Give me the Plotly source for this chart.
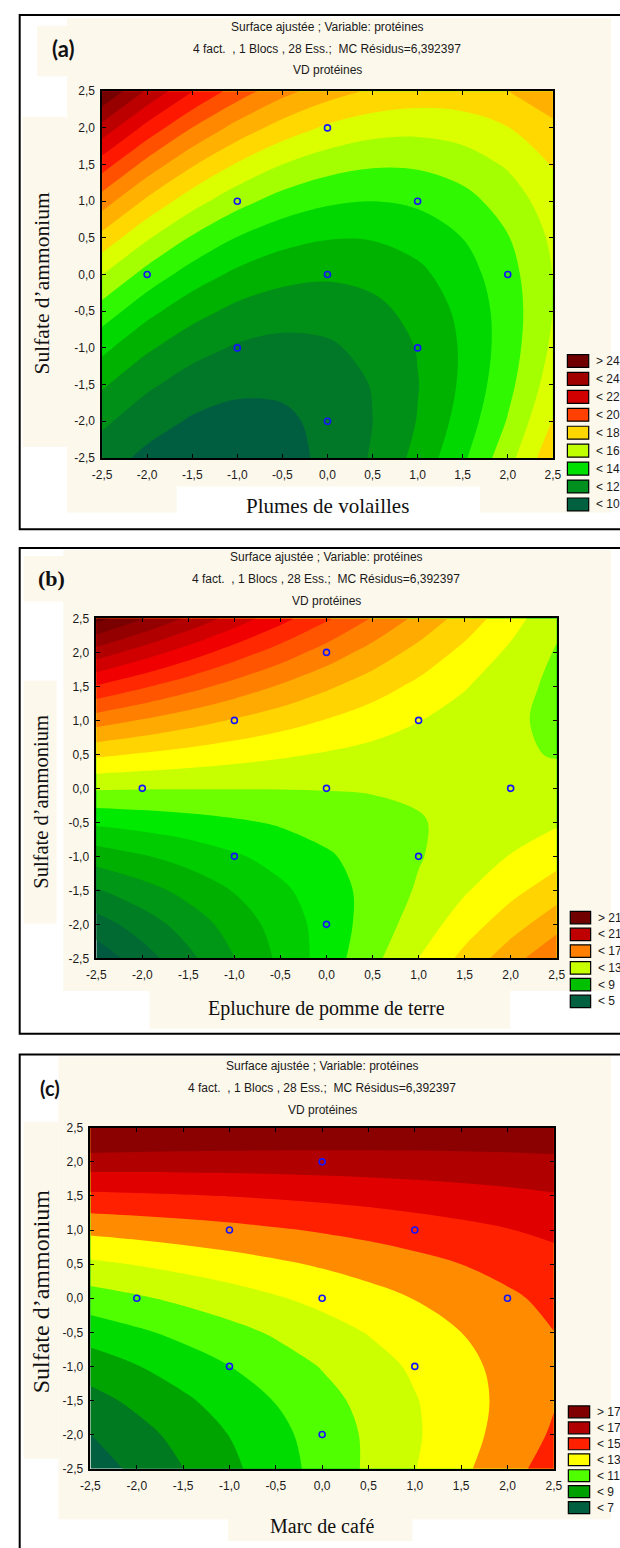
import plotly.graph_objects as go

W, H = 620, 1548

# ---------------- data ----------------
grid_x = [-2.5, -2.0, -1.5, -1.0, -0.5, 0.0, 0.5, 1.0, 1.5, 2.0, 2.5]
grid_y = [-2.5, -2.0, -1.5, -1.0, -0.5, 0.0, 0.5, 1.0, 1.5, 2.0, 2.5]

tick_vals = [-2.5, -2.0, -1.5, -1.0, -0.5, 0.0, 0.5, 1.0, 1.5, 2.0, 2.5]
tick_text = ["-2,5", "-2,0", "-1,5", "-1,0", "-0,5", "0,0", "0,5", "1,0", "1,5", "2,0", "2,5"]

design_x = [0, -1, 1, -2, 0, 2, -1, 1, 0]
design_y = [2, 1, 1, 0, 0, 0, -1, -1, -2]

# (a) Plumes de volailles x Sulfate d'ammonium  (rows: y = -2.5 ... 2.5)
z_a = [
    [10.43, 9.77, 9.41, 9.37, 9.64, 10.22, 11.10, 12.30, 13.81, 15.63, 17.75],
    [11.20, 10.39, 9.89, 9.70, 9.82, 10.25, 10.99, 12.04, 13.40, 15.07, 17.06],
    [12.14, 11.18, 10.54, 10.20, 10.18, 10.46, 11.05, 11.96, 13.17, 14.70, 16.53],
    [13.26, 12.15, 11.36, 10.88, 10.71, 10.85, 11.29, 12.05, 13.12, 14.50, 16.19],
    [14.55, 13.30, 12.36, 11.73, 11.41, 11.41, 11.71, 12.32, 13.24, 14.47, 16.01],
    [16.02, 14.62, 13.54, 12.76, 12.30, 12.14, 12.30, 12.76, 13.54, 14.62, 16.02],
    [17.66, 16.12, 14.88, 13.96, 13.35, 13.05, 13.06, 13.38, 14.01, 14.94, 16.19],
    [19.48, 17.79, 16.41, 15.34, 14.58, 14.14, 14.00, 14.17, 14.65, 15.44, 16.55],
    [21.47, 19.63, 18.11, 16.89, 15.99, 15.40, 15.11, 15.14, 15.47, 16.12, 17.07],
    [23.64, 21.65, 19.98, 18.62, 17.57, 16.83, 16.40, 16.28, 16.47, 16.97, 17.78],
    [25.98, 23.85, 22.03, 20.53, 19.33, 18.44, 17.86, 17.60, 17.64, 17.99, 18.65],
]
band_colors_a = ["#005e40", "#007828", "#009018", "#00b200", "#00d800", "#30f800",
                 "#a4ff00", "#dcff00", "#ffd800", "#ffb000", "#ff8800", "#ff5000",
                 "#ff1800", "#e00000", "#bc0000", "#980000", "#740000"]
legend_a_labels = ["> 24", "< 24", "< 22", "< 20", "< 18", "< 16", "< 14", "< 12", "< 10"]
legend_a_colors = ["#700000", "#a00000", "#d00000", "#ff4000", "#ffd700", "#c0ff00",
                   "#00e000", "#009020", "#006040"]

# (b) Epluchure de pomme de terre x Sulfate d'ammonium
z_b = [
    [4.35, 5.54, 6.75, 7.98, 9.21, 10.46, 11.72, 13.00, 14.29, 15.59, 16.90],
    [5.54, 6.49, 7.45, 8.43, 9.42, 10.42, 11.44, 12.46, 13.51, 14.56, 15.63],
    [6.91, 7.61, 8.33, 9.06, 9.80, 10.56, 11.33, 12.11, 12.90, 13.71, 14.53],
    [8.46, 8.92, 9.39, 9.87, 10.37, 10.88, 11.40, 11.93, 12.48, 13.04, 13.62],
    [10.19, 10.40, 10.62, 10.86, 11.11, 11.37, 11.65, 11.94, 12.24, 12.55, 12.88],
    [12.10, 12.06, 12.04, 12.03, 12.03, 12.05, 12.08, 12.12, 12.18, 12.25, 12.33],
    [14.19, 13.91, 13.64, 13.38, 13.14, 12.91, 12.69, 12.49, 12.30, 12.12, 11.95],
    [16.46, 15.93, 15.41, 14.91, 14.42, 13.95, 13.48, 13.03, 12.59, 12.17, 11.76],
    [18.91, 18.13, 17.37, 16.62, 15.89, 15.16, 14.45, 13.76, 13.07, 12.40, 11.74],
    [21.54, 20.52, 19.51, 18.51, 17.53, 16.56, 15.60, 14.66, 13.73, 12.81, 11.91],
    [24.35, 23.08, 21.82, 20.58, 19.35, 18.14, 16.93, 15.74, 14.57, 13.40, 12.25],
]
band_colors_b = ["#005a40", "#006a32", "#007e24", "#009616", "#00b000", "#00cc00",
                 "#00ea00", "#6cff00", "#c8ff00", "#ffff00", "#ffd400", "#ffaa00",
                 "#ff8000", "#ff5400", "#ff2800", "#f00000", "#d00000", "#b00000",
                 "#940000", "#7a0000", "#600000"]
legend_b_labels = ["> 21", "< 21", "< 17", "< 13", "< 9", "< 5"]
legend_b_colors = ["#700000", "#c00000", "#ff8000", "#c8ff00", "#00c000", "#006040"]

# (c) Marc de café x Sulfate d'ammonium
z_c = [
    [6.47, 7.23, 7.99, 8.77, 9.55, 10.35, 11.15, 11.97, 12.79, 13.63, 14.47],
    [6.99, 7.65, 8.33, 9.02, 9.72, 10.43, 11.15, 11.88, 12.62, 13.37, 14.13],
    [7.65, 8.23, 8.83, 9.43, 10.04, 10.67, 11.30, 11.94, 12.59, 13.26, 13.93],
    [8.47, 8.96, 9.47, 9.99, 10.51, 11.05, 11.60, 12.15, 12.72, 13.30, 13.89],
    [9.43, 9.84, 10.26, 10.69, 11.13, 11.59, 12.05, 12.52, 13.00, 13.49, 13.99],
    [10.55, 10.87, 11.21, 11.55, 11.91, 12.27, 12.65, 13.03, 13.43, 13.83, 14.25],
    [11.81, 12.05, 12.30, 12.56, 12.83, 13.11, 13.39, 13.69, 14.00, 14.32, 14.65],
    [13.23, 13.38, 13.54, 13.71, 13.90, 14.09, 14.29, 14.51, 14.73, 14.96, 15.21],
    [14.79, 14.86, 14.93, 15.02, 15.12, 15.23, 15.34, 15.47, 15.61, 15.75, 15.91],
    [16.51, 16.49, 16.48, 16.48, 16.49, 16.51, 16.54, 16.58, 16.63, 16.69, 16.77],
    [18.37, 18.27, 18.17, 18.09, 18.01, 17.95, 17.89, 17.85, 17.81, 17.79, 17.77],
]
band_colors_c = ["#006040", "#007a20", "#00a400", "#00dc00", "#50ff00", "#ccff00",
                 "#ffff00", "#ff8c00", "#ff2000", "#e00000", "#b00000", "#8b0000"]
legend_c_labels = ["> 17", "< 17", "< 15", "< 13", "< 11", "< 9", "< 7"]
legend_c_colors = ["#800000", "#b00000", "#ff2000", "#ffff00", "#50ff00", "#00a000", "#006040"]

title_lines = ["Surface ajustée ; Variable: protéines",
               "4 fact.  , 1 Blocs , 28 Ess.;  MC Résidus=6,392397",
               "VD protéines"]
y_title = "Sulfate d’ammonium"

# ---------------- layout helpers ----------------
def fx(p):
    return p / W


def fy(p):
    return 1 - p / H


CREAM = "#fdf8ec"
SANS = "Liberation Sans, Arial, sans-serif"
SERIF = "Liberation Serif, Times New Roman, serif"
TXT = "#1a1a1a"

panels = [
    dict(z=z_a, start=10, end=25, colors=band_colors_a,
         leg_lab=legend_a_labels, leg_col=legend_a_colors,
         plot=(95, 560, 85, 455), frame=(10, 8, 700, 527),
         cream=(59, 11, 620, 510),
         boxes=[((28, 19, 60, 70), CREAM), ((13, 111, 59, 444), CREAM),
                ((172, 484, 485, 525), "#ffffff")],
         titles=(20, 42, 64), xt_y=504, xt="Plumes de volailles", xt_size=21,
         yt=(33, 279), yt_size=21.5,
         label="(a)", label_pos=(55, 42), label_font=dict(family="Lato, Open Sans, sans-serif", size=22, color="#111"),
         leg=(575, 597, 350.7, 18.1, 13, 602)),
    dict(z=z_b, start=5, end=24, colors=band_colors_b,
         leg_lab=legend_b_labels, leg_col=legend_b_colors,
         plot=(89, 564, 617, 960), frame=(10, 546, 700, 1036),
         cream=(55, 548, 620, 993),
         boxes=[((14, 554, 62, 600), CREAM), ((14, 680, 48, 925), CREAM),
                ((144, 988, 516, 1031), CREAM)],
         titles=(555, 577, 599), xt_y=1011, xt="Epluchure de pomme de terre", xt_size=20,
         yt=(32, 802), yt_size=20.5,
         label="(b)", label_pos=(43, 577), label_font=dict(family=SERIF, size=22, color="#111"),
         leg=(578, 599, 912.7, 16.9, 12.5, 605)),
    dict(z=z_c, start=7, end=17, colors=band_colors_c,
         leg_lab=legend_c_labels, leg_col=legend_c_colors,
         plot=(83, 561, 1131, 1475), frame=(10, 1057, 700, 1600),
         cream=(50, 1059, 620, 1526),
         boxes=[((14, 1125, 50, 1465), CREAM), ((225, 1518, 415, 1548), CREAM)],
         titles=(1069, 1091, 1113), xt_y=1533, xt="Marc de café", xt_size=20,
         yt=(32, 1296), yt_size=24,
         label="(c)", label_pos=(41, 1091), label_font=dict(family="Lato, Open Sans, sans-serif", size=20, color="#111"),
         leg=(576, 598, 1411.7, 16.1, 12, 603)),
]

fig = go.Figure()
shapes = []
annotations = []
layout_axes = {}


def rect(x0, y0, x1, y1, fill, line_color=None, lw=0, layer="below"):
    d = dict(type="rect", xref="paper", yref="paper",
             x0=fx(x0), x1=fx(x1), y0=fy(y1), y1=fy(y0),
             fillcolor=fill, layer=layer,
             line=dict(width=lw, color=line_color or "rgba(0,0,0,0)"))
    return d


for i, p in enumerate(panels):
    k = "" if i == 0 else str(i + 1)
    xa, ya = "x" + k, "y" + k
    cols = p["colors"]
    cscale = [[j / (len(cols) - 1), c] for j, c in enumerate(cols)]
    fig.add_trace(go.Contour(
        x=grid_x, y=grid_y, z=p["z"], xaxis=xa, yaxis=ya,
        autocontour=False,
        contours=dict(start=p["start"], end=p["end"], size=1, coloring="fill", showlines=False),
        line=dict(width=0, smoothing=1.0),
        colorscale=cscale, showscale=False, hoverinfo="skip",
    ))
    fig.add_trace(go.Scatter(
        x=design_x, y=design_y, xaxis=xa, yaxis=ya, mode="markers",
        marker=dict(symbol="circle-open", size=6, color="#1414ff", line=dict(width=1.6, color="#1414ff")),
        hoverinfo="skip", showlegend=False,
    ))

    x0, x1, y0, y1 = p["plot"]
    axis_common = dict(range=[-2.5, 2.5], tickvals=tick_vals, ticktext=tick_text,
                       ticks="inside", ticklen=4, tickwidth=1, tickcolor="#000",
                       showline=True, linecolor="#000", linewidth=1.5, mirror="ticks",
                       showgrid=False, zeroline=False,
                       tickfont=dict(family=SANS, size=12, color=TXT))
    layout_axes["xaxis" + k] = dict(domain=[fx(x0), fx(x1)], anchor=ya,
                                    ticklabelstandoff=5, **axis_common)
    layout_axes["yaxis" + k] = dict(domain=[fy(y1), fy(y0)], anchor=xa,
                                    ticklabelstandoff=3, **axis_common)

    # backgrounds
    cx0, cy0, cx1, cy1 = p["cream"]
    shapes.append(rect(cx0, cy0, cx1, cy1, CREAM))
    for (bx0, by0, bx1, by1), col in p["boxes"]:
        shapes.append(rect(bx0, by0, bx1, by1, col))
    fx0, fy0, fx1, fy1 = p["frame"]
    shapes.append(rect(fx0, fy0, fx1, fy1, "rgba(0,0,0,0)", "#000", 2))

    # titles
    for t, ty in zip(title_lines, p["titles"]):
        annotations.append(dict(text=t, x=fx((x0 + x1) / 2), y=fy(ty), xref="paper", yref="paper",
                                xanchor="center", yanchor="middle", showarrow=False,
                                font=dict(family=SANS, size=12, color=TXT)))
    # axis titles
    annotations.append(dict(text=p["xt"], x=fx((x0 + x1) / 2), y=fy(p["xt_y"]), xref="paper", yref="paper",
                            xanchor="center", yanchor="middle", showarrow=False,
                            font=dict(family=SERIF, size=p["xt_size"], color="#111")))
    annotations.append(dict(text=y_title,
                            x=fx(p["yt"][0]), y=fy(p["yt"][1]), xref="paper", yref="paper",
                            xanchor="center", yanchor="middle", showarrow=False, textangle=-90,
                            font=dict(family=SERIF, size=p["yt_size"], color="#111")))
    annotations.append(dict(text="<b>%s</b>" % p["label"], x=fx(p["label_pos"][0]), y=fy(p["label_pos"][1]),
                            xref="paper", yref="paper", xanchor="center", yanchor="middle",
                            showarrow=False, font=p["label_font"]))
    # legend
    lx0, lx1, ltop, lstep, lh, ltx = p["leg"]
    for j, (lab, col) in enumerate(zip(p["leg_lab"], p["leg_col"])):
        top = ltop + j * lstep
        shapes.append(rect(lx0, top, lx1, top + lh, col, "#000", 1.2, layer="above"))
        annotations.append(dict(text=lab, x=fx(ltx), y=fy(top + lh / 2), xref="paper", yref="paper",
                                xanchor="left", yanchor="middle", showarrow=False,
                                font=dict(family=SANS, size=12, color=TXT)))

fig.update_layout(
    width=W, height=H, autosize=False,
    margin=dict(l=0, r=0, t=0, b=0),
    paper_bgcolor="#ffffff", plot_bgcolor="rgba(0,0,0,0)",
    showlegend=False, shapes=shapes, annotations=annotations,
    **layout_axes,
)

fig.write_html("out.html", post_script="document.body.style.margin='0';")
